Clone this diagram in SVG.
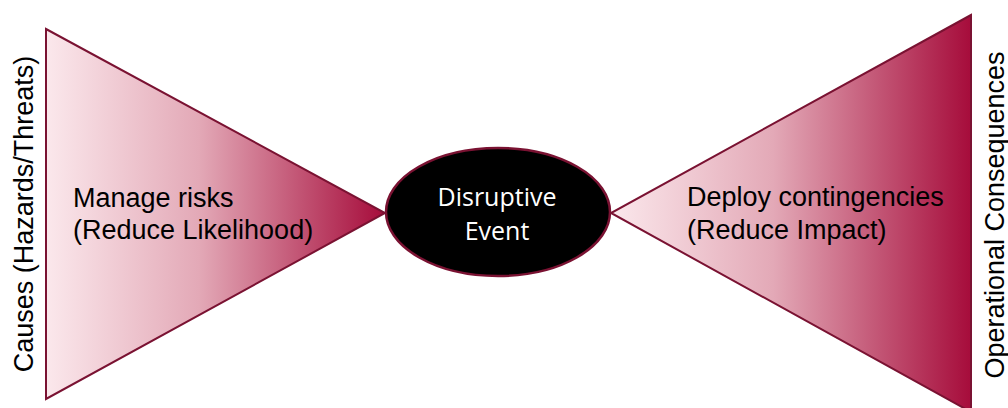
<svg xmlns="http://www.w3.org/2000/svg" width="1008" height="408" viewBox="0 0 1008 408">
  <style>
    .tri { stroke: #7a1232; stroke-width: 2; stroke-linejoin: miter; }
    .lbl { font-family: "Liberation Sans", Arial, sans-serif; font-size: 27px; fill: #000; }
    .ev { font-family: "Open Sans", "DejaVu Sans", sans-serif; font-size: 25px; fill: #fff; text-anchor: middle; }
  </style>
  <defs>
    <linearGradient id="gL" gradientUnits="userSpaceOnUse" x1="46" y1="0" x2="385" y2="0">
      <stop offset="0" stop-color="#fbe8ec"/>
      <stop offset="0.45" stop-color="#e3a9b7"/>
      <stop offset="1" stop-color="#a60c3b"/>
    </linearGradient>
    <linearGradient id="gR" gradientUnits="userSpaceOnUse" x1="611" y1="0" x2="971" y2="0">
      <stop offset="0" stop-color="#fbe8ec"/>
      <stop offset="0.45" stop-color="#e3a9b7"/>
      <stop offset="1" stop-color="#a60c3b"/>
    </linearGradient>
  </defs>
  <rect width="1008" height="408" fill="#fff"/>
  <g id="causes-label">
    <text class="lbl" text-anchor="middle" transform="translate(33,214) rotate(-90)">Causes (Hazards/Threats)</text>
  </g>
  <g id="manage-risks">
    <polygon class="tri" points="46,29 385,213 46,399" fill="url(#gL)"/>
    <text class="lbl" x="73" y="207">Manage risks</text>
    <text class="lbl" x="73" y="239">(Reduce Likelihood)</text>
  </g>
  <g id="deploy-contingencies">
    <polygon class="tri" points="971,15 611,213 971,412" fill="url(#gR)"/>
    <text class="lbl" x="687" y="206">Deploy contingencies</text>
    <text class="lbl" x="687" y="239">(Reduce Impact)</text>
  </g>
  <g id="disruptive-event">
    <ellipse cx="498" cy="212" rx="112" ry="64" fill="#000" stroke="#7a1232" stroke-width="2.5"/>
    <text class="ev" x="497" y="206">Disruptive</text>
    <text class="ev" x="497" y="240">Event</text>
  </g>
  <g id="consequences-label">
    <text class="lbl" text-anchor="middle" transform="translate(1004,215) rotate(-90)">Operational Consequences</text>
  </g>
  <g id="connectors"/>
</svg>
